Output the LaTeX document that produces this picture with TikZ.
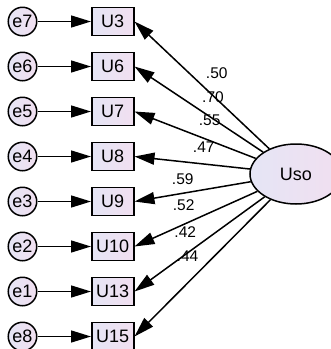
\documentclass[tikz,border=0pt]{standalone}
\usepackage{fontspec}
\setmainfont{Liberation Sans}
\usepackage{tikz}
\usetikzlibrary{arrows.meta,positioning,shapes.geometric}
\definecolor{lavl}{HTML}{E5E5F5}
\definecolor{lavr}{HTML}{F1DFF0}

\begin{document}
\begin{tikzpicture}[
    x=1pt, y=1pt,
    font=\fontsize{18}{20}\selectfont,
    >={Triangle[length=20pt,width=12pt]},
    node distance=15pt and 53.5pt,
    err/.style={circle, draw, line width=1.5pt, left color=lavl, right color=lavr, minimum size=28.5pt, inner sep=0pt},
    obs/.style={rectangle, draw, line width=1.5pt, left color=lavl, right color=lavr, minimum width=42pt, minimum height=28pt, inner sep=1pt},
    latent/.style={ellipse, draw, line width=1.5pt, left color=lavl, right color=lavr, minimum width=92pt, minimum height=60pt},
    lbl/.style={font=\fontsize{15.5}{18}\selectfont, inner sep=0pt},
    line/.style={->, line width=1.5pt}
]
\useasboundingbox (0,0) rectangle (331,-349);

% Error terms (left column)
\node[err] (e7) at (22.5,-21.5) {e7};
\node[err, below=of e7] (e6) {e6};
\node[err, below=of e6] (e5) {e5};
\node[err, below=of e5] (e4) {e4};
\node[err, below=of e4] (e3) {e3};
\node[err, below=of e3] (e2) {e2};
\node[err, below=of e2] (e1) {e1};
\node[err, below=of e1] (e8) {e8};

% Indicators (middle column)
\node[obs, right=of e7] (u3) {U3};
\node[obs, right=of e6] (u6) {U6};
\node[obs, right=of e5] (u7) {U7};
\node[obs, right=of e4] (u8) {U8};
\node[obs, right=of e3] (u9) {U9};
\node[obs, right=of e2] (u10) {U10};
\node[obs, right=of e1] (u13) {U13};
\node[obs, right=of e8] (u15) {U15};

% Latent factor
\node[latent] (uso) at (296,-174) {Uso};

% Errors to indicators
\draw[line] (e7) -- (u3);
\draw[line] (e6) -- (u6);
\draw[line] (e5) -- (u7);
\draw[line] (e4) -- (u8);
\draw[line] (e3) -- (u9);
\draw[line] (e2) -- (u10);
\draw[line] (e1) -- (u13);
\draw[line] (e8) -- (u15);

% Factor loadings
\draw[line] (uso) -- node[lbl, pos=.39, yshift=26pt] (w3) {.50} (u3.east);
\draw[line] (uso) -- node[lbl, pos=.39, yshift=22pt] (w6) {.70} (u6.east);
\draw[line] (uso) -- node[lbl, pos=.38, yshift=20pt] (w7) {.55} (u7.east);
\draw[line] (uso) -- node[lbl, pos=.40, yshift=16.5pt] (w8) {.47} (u8.east);
\draw[line] (uso) -- node[lbl, pos=.585, yshift=14.5pt] (w9) {.59} (u9.east);
\draw[line] (uso) -- node[lbl, pos=.60, yshift=19pt] (w10) {.52} (u10.east);
\draw[line] (uso) -- node[lbl, pos=.61, yshift=22.5pt] (w13) {.42} (u13.east);
\draw[line] (uso) -- node[lbl, pos=.61, yshift=26.5pt] (w15) {.44} (u15.east);

\end{tikzpicture}
\end{document}
